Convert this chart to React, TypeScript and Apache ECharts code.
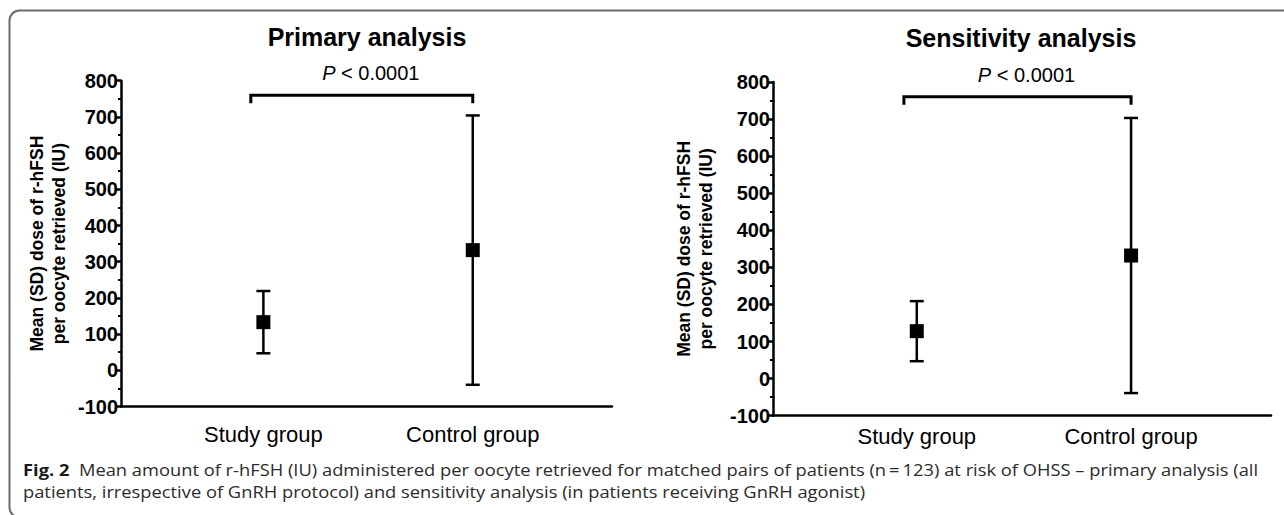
import React, { useEffect, useRef } from "react";
import * as echarts from "echarts";

// ---- data ----
const groups = ["Study group", "Control group"];
const groupPos = [1, 2];
const panelTitles = ["Primary analysis", "Sensitivity analysis"];
const primaryMean = [133, 332];
const primarySD = [86, 372];
const sensitivityMean = [128, 332];
const sensitivitySD = [81, 371];
const yMin = -100;
const yMax = 800;
const yStep = 100;
const pLabelItalic = "P";
const pLabelRest = " < 0.0001";
const bracketFrom = 0.94;
const bracketTo = 2.0;
const bracketLevel = 760;
const yAxisTitle = "Mean (SD) dose of r-hFSH\nper oocyte retrieved (IU)";
const captionLabel = "Fig. 2";
const captionLine1 =
  "Mean amount of r-hFSH (IU) administered per oocyte retrieved for matched pairs of patients (n\u2009=\u2009123) at risk of OHSS \u2013 primary analysis (all";
const captionLine2 =
  "patients, irrespective of GnRH protocol) and sensitivity analysis (in patients receiving GnRH agonist)";

const FONT = '"Liberation Sans", Arial, Helvetica, sans-serif';
const CAP_FONT = '"Open Sans", "Noto Sans", sans-serif';

export default function App() {
  const ref = useRef<HTMLDivElement>(null);

  useEffect(() => {
    document.body.style.margin = "0";
    if (!ref.current) return;
    const chart = echarts.init(ref.current, undefined, { renderer: "svg" });

    // caption width fit
    const capSize = 16.5;
    const ctx = document.createElement("canvas").getContext("2d")!;
    ctx.font = `bold ${capSize}px "Open Sans"`;
    const wLabel = ctx.measureText(captionLabel).width;
    ctx.font = `${capSize}px "Open Sans"`;
    const wRest = ctx.measureText("  " + captionLine1).width;
    const capScale = 1236 / (wLabel + wRest);

    const grids = [
      { left: 121, top: 80.7, width: 491, height: 325.8 },
      { left: 773, top: 82, width: 498, height: 333.7 },
    ];
    const xRanges = [
      [0.32, 2.665],
      [0.329, 2.653],
    ];
    const means = [primaryMean, sensitivityMean];
    const sds = [primarySD, sensitivitySD];

    const xAxis: any[] = [];
    const yAxis: any[] = [];
    const series: any[] = [];

    [0, 1].forEach((i) => {
      xAxis.push({
        type: "value",
        gridIndex: i,
        min: xRanges[i][0],
        max: xRanges[i][1],
        axisLine: { show: true, onZero: false, lineStyle: { color: "#000", width: 2.5 } },
        axisTick: { show: false },
        splitLine: { show: false },
        axisLabel: {
          customValues: groupPos,
          formatter: (v: number) => groups[groupPos.indexOf(Math.round(v))] ?? "",
          fontSize: 22,
          fontFamily: FONT,
          color: "#000",
          margin: i === 0 ? 17 : 10,
        },
      });
      yAxis.push({
        type: "value",
        gridIndex: i,
        min: yMin,
        max: yMax,
        interval: yStep,
        name: yAxisTitle,
        nameLocation: "middle",
        nameRotate: 90,
        nameGap: i === 0 ? 51 : 56,
        nameTextStyle: {
          fontSize: 17.5,
          fontWeight: "bold",
          fontFamily: FONT,
          color: "#000",
          lineHeight: 22,
          align: "center",
        },
        axisLine: { show: true, onZero: false, lineStyle: { color: "#000", width: 2.5 } },
        axisTick: { show: true, length: 5, lineStyle: { color: "#000", width: 2.5 } },
        minorTick: { show: true, splitNumber: 2, length: 3, lineStyle: { color: "#000", width: 2 } },
        splitLine: { show: false },
        axisLabel: {
          fontSize: 20,
          fontWeight: "bold",
          fontFamily: FONT,
          color: "#000",
          margin: 3,
        },
      });

      const errData = groupPos.map((x, k) => [x, means[i][k] - sds[i][k], means[i][k] + sds[i][k]]);
      series.push({
        type: "custom",
        xAxisIndex: i,
        yAxisIndex: i,
        data: errData,
        encode: { x: 0, y: [1, 2] },
        z: 2,
        renderItem: (_p: any, api: any) => {
          const x = api.value(0);
          const top = api.coord([x, api.value(2)]);
          const bot = api.coord([x, api.value(1)]);
          const hw = 7;
          const st = { stroke: "#000", lineWidth: 2.5 };
          return {
            type: "group",
            children: [
              { type: "line", shape: { x1: top[0], y1: top[1], x2: bot[0], y2: bot[1] }, style: st },
              { type: "line", shape: { x1: top[0] - hw, y1: top[1], x2: top[0] + hw, y2: top[1] }, style: st },
              { type: "line", shape: { x1: bot[0] - hw, y1: bot[1], x2: bot[0] + hw, y2: bot[1] }, style: st },
            ],
          };
        },
      });
      series.push({
        type: "scatter",
        xAxisIndex: i,
        yAxisIndex: i,
        data: groupPos.map((x, k) => [x, means[i][k]]),
        symbol: "rect",
        symbolSize: 14,
        itemStyle: { color: "#000", opacity: 1 },
        z: 3,
      });
      series.push({
        type: "custom",
        xAxisIndex: i,
        yAxisIndex: i,
        data: [[bracketFrom, bracketTo, bracketLevel]],
        z: 2,
        renderItem: (_p: any, api: any) => {
          const a = api.coord([api.value(0), api.value(2)]);
          const b = api.coord([api.value(1), api.value(2)]);
          const drop = 8;
          return {
            type: "group",
            children: [
              {
                type: "polyline",
                shape: {
                  points: [
                    [a[0], a[1] + drop],
                    [a[0], a[1]],
                    [b[0], b[1]],
                    [b[0], b[1] + drop],
                  ],
                },
                style: { stroke: "#000", lineWidth: 3, fill: "none" },
              },
              {
                type: "text",
                x: (a[0] + b[0]) / 2 + 9,
                y: a[1] - 22,
                style: {
                  text: `{i|${pLabelItalic}}{r|${pLabelRest}}`,
                  align: "center",
                  verticalAlign: "middle",
                  rich: {
                    i: { fontSize: 20, fontStyle: "italic", fontFamily: FONT, fill: "#000", color: "#000" },
                    r: { fontSize: 20, fontFamily: FONT, fill: "#000", color: "#000" },
                  },
                },
              },
            ],
          };
        },
      });
    });

    chart.setOption({
      animation: false,
      backgroundColor: "#fff",
      title: [
        {
          text: panelTitles[0],
          left: 367,
          top: 24,
          textAlign: "center",
          padding: 0,
          textStyle: { fontSize: 25, fontWeight: "bold", fontFamily: FONT, color: "#000" },
        },
        {
          text: panelTitles[1],
          left: 1021,
          top: 25,
          textAlign: "center",
          padding: 0,
          textStyle: { fontSize: 25, fontWeight: "bold", fontFamily: FONT, color: "#000" },
        },
      ],
      grid: grids,
      xAxis,
      yAxis,
      series,
      graphic: [
        {
          type: "rect",
          shape: { x: 9.5, y: 10.5, width: 1300, height: 507, r: 10 },
          style: { fill: "none", stroke: "#6b6b6b", lineWidth: 2 },
          silent: true,
        },
        {
          type: "text",
          x: 23,
          y: 469,
          scaleX: capScale,
          style: {
            text: `{b|${captionLabel}}{n|  ${captionLine1}}`,
            verticalAlign: "middle",
            rich: {
              b: { fontSize: capSize, fontWeight: "bold", fontFamily: CAP_FONT, fill: "#1a1a1a" },
              n: { fontSize: capSize, fontFamily: CAP_FONT, fill: "#2b2b2b" },
            },
          },
        },
        {
          type: "text",
          x: 23,
          y: 491,
          scaleX: capScale,
          style: {
            text: captionLine2,
            verticalAlign: "middle",
            fontSize: capSize,
            fontFamily: CAP_FONT,
            fill: "#2b2b2b",
          },
        },
      ],
    });

    return () => chart.dispose();
  }, []);

  return <div ref={ref} style={{ width: 1284, height: 515 }} />;
}
